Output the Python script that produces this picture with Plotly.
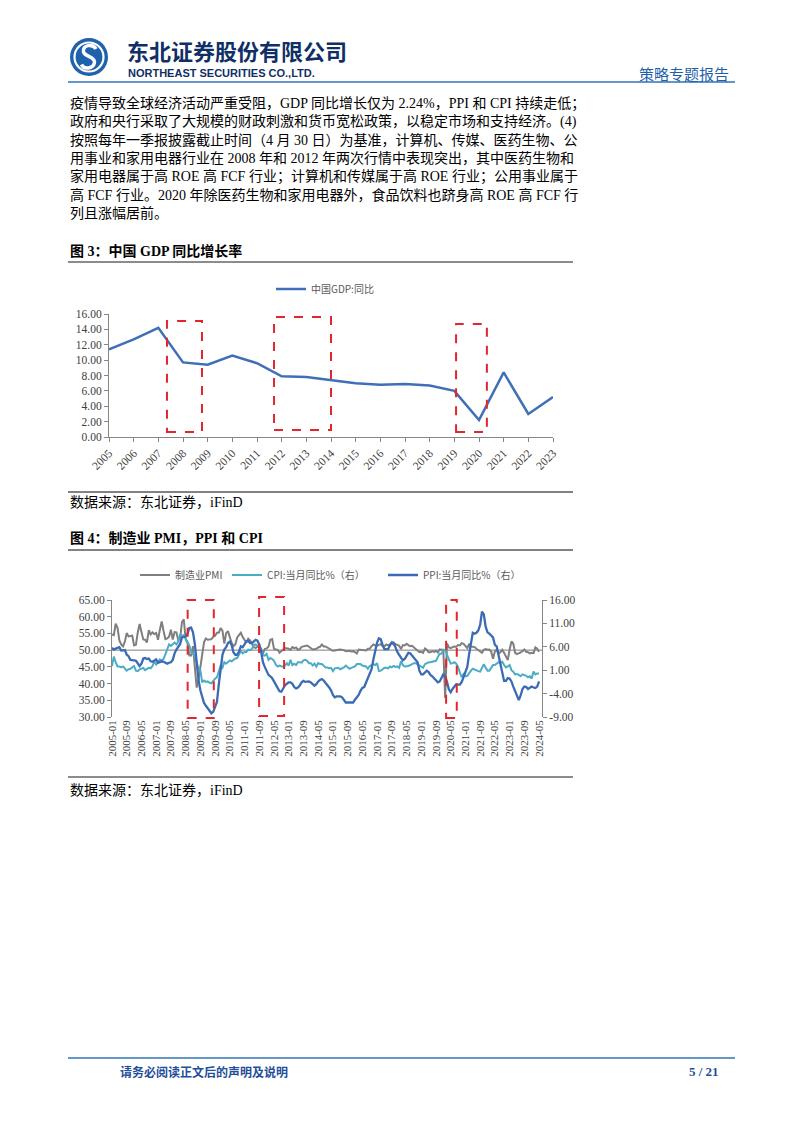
import plotly.graph_objects as go
import pandas as pd

W, H = 802, 1133


def px(x):
    return x / W


def py(y):
    return 1 - y / H


SERIF = "Liberation Serif, Noto Sans CJK SC, serif"
SANS_CJK = "Noto Sans CJK SC, sans-serif"
TICK_COLOR = "#404040"
AXIS_COLOR = "#868686"

# ---------------- Figure 3 data: China GDP yoy ----------------
gdp_years = ["2005", "2006", "2007", "2008", "2009", "2010", "2011", "2012", "2013",
             "2014", "2015", "2016", "2017", "2018", "2019", "2020", "2021", "2022", "2023"]
gdp_yoy = [11.4, 12.7, 14.2, 9.7, 9.4, 10.6, 9.6, 7.9, 7.8,
           7.4, 7.0, 6.8, 6.9, 6.7, 6.0, 2.2, 8.4, 3.0, 5.2]
gdp_yticks = [0, 2, 4, 6, 8, 10, 12, 14, 16]

# ---------------- Figure 4 data: PMI, CPI, PPI (monthly 2005-01 .. 2024-05) ----------------
months = [p.strftime("%Y-%m") for p in pd.period_range("2005-01", "2024-05", freq="M")]
month_ticks = months[::8]

pmi = [
    54.7, 54.5, 57.9, 56.7, 52.9, 51.7, 51.1, 52.6, 55.1, 54.1, 54.2, 54.3,   # 2005
    51.4, 51.6, 55.3, 57.8, 55.4, 53.2, 53.1, 52.3, 56.0, 54.7, 55.3, 54.8,   # 2006
    55.1, 53.1, 56.1, 58.6, 55.8, 53.3, 53.5, 54.0, 56.1, 53.2, 55.4, 55.3,   # 2007
    53.0, 53.4, 58.4, 59.2, 53.3, 52.0, 48.4, 48.4, 51.2, 44.6, 38.8, 41.2,   # 2008
    45.3, 49.0, 52.4, 53.5, 53.1, 53.2, 53.3, 54.0, 54.3, 55.2, 55.2, 56.6,   # 2009
    55.8, 52.0, 55.1, 55.7, 53.9, 52.1, 51.2, 51.7, 53.8, 54.7, 55.2, 53.9,   # 2010
    52.9, 52.2, 53.4, 52.9, 52.0, 50.9, 50.7, 50.9, 51.2, 50.4, 49.0, 50.3,   # 2011
    50.5, 51.0, 53.1, 53.3, 50.4, 50.2, 50.1, 49.2, 49.8, 50.2, 50.6, 50.6,   # 2012
    50.4, 50.1, 50.9, 50.6, 50.8, 50.1, 50.3, 51.0, 51.1, 51.4, 51.4, 51.0,   # 2013
    50.5, 50.2, 50.3, 50.4, 50.8, 51.0, 51.7, 51.1, 51.1, 50.8, 50.3, 50.1,   # 2014
    49.8, 49.9, 50.1, 50.1, 50.2, 50.2, 50.0, 49.7, 49.8, 49.8, 49.6, 49.7,   # 2015
    49.4, 49.0, 50.2, 50.1, 50.1, 50.0, 49.9, 50.4, 50.4, 51.2, 51.7, 51.4,   # 2016
    51.3, 51.6, 51.8, 51.2, 51.2, 51.7, 51.4, 51.7, 52.4, 51.6, 51.8, 51.6,   # 2017
    51.3, 50.3, 51.5, 51.4, 51.9, 51.5, 51.2, 51.3, 50.8, 50.2, 50.0, 49.4,   # 2018
    49.5, 49.2, 50.5, 50.1, 49.4, 49.4, 49.7, 49.5, 49.8, 49.3, 50.2, 50.2,   # 2019
    50.0, 35.7, 52.0, 50.8, 50.6, 50.9, 51.1, 51.0, 51.5, 51.4, 52.1, 51.9,   # 2020
    51.3, 50.6, 51.9, 51.1, 51.0, 50.9, 50.4, 50.1, 49.6, 49.2, 50.1, 50.3,   # 2021
    50.1, 50.2, 49.5, 47.4, 49.6, 50.2, 49.0, 49.4, 50.1, 49.2, 48.0, 47.0,   # 2022
    50.1, 52.6, 51.9, 49.2, 48.8, 49.0, 49.3, 49.7, 50.2, 49.5, 49.4, 49.0,   # 2023
    49.2, 49.1, 50.8, 50.4, 49.5,                                             # 2024
]

cpi = [
    1.9, 3.9, 2.7, 1.8, 1.8, 1.6, 1.8, 1.3, 0.9, 1.2, 1.3, 1.6,
    1.9, 0.9, 0.8, 1.2, 1.4, 1.5, 1.0, 1.3, 1.5, 1.4, 1.9, 2.8,
    2.2, 2.7, 3.3, 3.0, 3.4, 4.4, 5.6, 6.5, 6.2, 6.5, 6.9, 6.5,
    7.1, 8.7, 8.3, 8.5, 7.7, 7.1, 6.3, 4.9, 4.6, 4.0, 2.4, 1.2,
    1.0, -1.6, -1.2, -1.5, -1.4, -1.7, -1.8, -1.2, -0.8, -0.5, 0.6, 1.9,
    1.5, 2.7, 2.4, 2.8, 3.1, 2.9, 3.3, 3.5, 3.6, 4.4, 5.1, 4.6,
    4.9, 4.9, 5.4, 5.3, 5.5, 6.4, 6.5, 6.2, 6.1, 5.5, 4.2, 4.1,
    4.5, 3.2, 3.6, 3.4, 3.0, 2.2, 1.8, 2.0, 1.9, 1.7, 2.0, 2.5,
    2.0, 3.2, 2.1, 2.4, 2.1, 2.7, 2.7, 2.6, 3.1, 3.2, 3.0, 2.5,
    2.5, 2.0, 2.4, 1.8, 2.5, 2.3, 2.3, 2.0, 1.6, 1.6, 1.4, 1.5,
    0.8, 1.4, 1.4, 1.5, 1.2, 1.4, 1.6, 2.0, 1.6, 1.3, 1.5, 1.6,
    1.8, 2.3, 2.3, 2.3, 2.0, 1.9, 1.8, 1.3, 1.9, 2.1, 2.3, 2.1,
    2.5, 0.8, 0.9, 1.2, 1.5, 1.5, 1.4, 1.8, 1.6, 1.9, 1.7, 1.8,
    1.5, 2.9, 2.1, 1.8, 1.8, 1.9, 2.1, 2.3, 2.5, 2.5, 2.2, 1.9,
    1.7, 1.5, 2.3, 2.5, 2.7, 2.7, 2.8, 2.8, 3.0, 3.8, 4.5, 4.5,
    5.4, 5.2, 4.3, 3.3, 2.4, 2.5, 2.7, 2.4, 1.7, 0.5, -0.5, 0.2,
    -0.3, -0.2, 0.4, 0.9, 1.3, 1.1, 1.0, 0.8, 0.7, 1.5, 2.3, 1.5,
    0.9, 0.9, 1.5, 2.1, 2.1, 2.5, 2.7, 2.5, 2.8, 2.1, 1.6, 1.8,
    2.1, 1.0, 0.7, 0.1, 0.2, 0.0, -0.3, 0.1, 0.0, -0.2, -0.5, -0.3,
    -0.8, 0.7, 0.1, 0.3, 0.3,
]

ppi = [
    5.8, 5.4, 5.6, 5.8, 5.9, 5.2, 5.2, 5.3, 4.3, 4.0, 3.2, 3.2,
    3.1, 3.0, 2.5, 1.9, 2.4, 3.5, 3.6, 3.4, 3.5, 2.9, 2.8, 3.1,
    3.3, 2.6, 2.7, 2.9, 2.8, 2.5, 2.4, 2.6, 2.7, 3.2, 4.6, 5.4,
    6.1, 6.6, 8.0, 8.1, 8.2, 8.8, 10.0, 10.1, 9.1, 6.6, 2.0, -1.1,
    -3.3, -4.5, -6.0, -6.6, -7.2, -7.8, -8.2, -7.9, -7.0, -5.8, -2.1, 1.7,
    4.3, 5.4, 5.9, 6.8, 7.1, 6.4, 4.8, 4.3, 4.3, 5.0, 6.1, 5.9,
    6.6, 7.2, 7.3, 6.8, 6.8, 7.1, 7.5, 7.3, 6.5, 5.0, 2.7, 1.7,
    0.7, 0.0, -0.3, -0.7, -1.4, -2.1, -2.9, -3.5, -3.6, -2.8, -2.2, -1.9,
    -1.6, -1.6, -1.9, -2.6, -2.9, -2.7, -2.3, -1.6, -1.3, -1.5, -1.4, -1.4,
    -1.6, -2.0, -2.3, -2.0, -1.4, -1.1, -0.9, -1.2, -1.8, -2.2, -2.7, -3.3,
    -4.3, -4.8, -4.6, -4.6, -4.6, -4.8, -5.4, -5.9, -5.9, -5.9, -5.9, -5.9,
    -5.3, -4.9, -4.3, -3.4, -2.8, -2.6, -1.7, -0.8, 0.1, 1.2, 3.3, 5.5,
    6.9, 7.8, 7.6, 6.4, 5.5, 5.5, 5.5, 6.3, 6.9, 6.9, 5.8, 4.9,
    4.3, 3.7, 3.1, 3.4, 4.1, 4.7, 4.6, 4.1, 3.6, 3.3, 2.7, 0.9,
    0.1, 0.1, 0.4, 0.9, 0.6, 0.0, -0.3, -0.8, -1.2, -1.6, -1.4, -0.5,
    0.1, -0.4, -1.5, -3.1, -3.7, -3.0, -2.4, -2.0, -2.1, -2.1, -1.5, -0.4,
    0.3, 1.7, 4.4, 6.8, 9.0, 8.8, 9.0, 9.5, 10.7, 13.5, 12.9, 10.3,
    9.1, 8.8, 8.3, 8.0, 6.4, 6.1, 4.2, 2.3, 0.9, -1.3, -1.3, -0.7,
    -0.8, -1.4, -2.5, -3.6, -4.6, -5.4, -4.4, -3.0, -2.5, -2.6, -3.0, -2.7,
    -2.5, -2.7, -2.8, -2.5, -1.4,
]

pmi_ticks = [30, 35, 40, 45, 50, 55, 60, 65]
price_ticks = [-9, -4, 1, 6, 11, 16]

body_lines = [
    "疫情导致全球经济活动严重受阻，GDP 同比增长仅为 2.24%，PPI 和 CPI 持续走低；",
    "政府和央行采取了大规模的财政刺激和货币宽松政策，以稳定市场和支持经济。(4)",
    "按照每年一季报披露截止时间（4 月 30 日）为基准，计算机、传媒、医药生物、公",
    "用事业和家用电器行业在 2008 年和 2012 年两次行情中表现突出，其中医药生物和",
    "家用电器属于高 ROE 高 FCF 行业；计算机和传媒属于高 ROE 行业；公用事业属于",
    "高 FCF 行业。2020 年除医药生物和家用电器外，食品饮料也跻身高 ROE 高 FCF 行",
    "列且涨幅居前。",
]

# ---------------- Figure ----------------
fig = go.Figure()

fig.add_trace(go.Scatter(
    x=gdp_years, y=gdp_yoy, mode="lines", name="中国GDP:同比",
    line=dict(color="#3F6FB6", width=2.5), xaxis="x", yaxis="y", legend="legend",
))

fig.add_trace(go.Scatter(
    x=months, y=pmi, mode="lines", name="制造业PMI",
    line=dict(color="#7F7F7F", width=2), xaxis="x2", yaxis="y2", legend="legend2",
))
fig.add_trace(go.Scatter(
    x=months, y=cpi, mode="lines", name="CPI:当月同比%（右）",
    line=dict(color="#4BACC6", width=2), xaxis="x2", yaxis="y3", legend="legend3",
))
fig.add_trace(go.Scatter(
    x=months, y=ppi, mode="lines", name="PPI:当月同比%（右）",
    line=dict(color="#3C6BB5", width=2.3), xaxis="x2", yaxis="y3", legend="legend4",
))

tickfont = dict(family=SERIF, size=11.5, color=TICK_COLOR)
legfont = dict(family=SANS_CJK, size=10, color="#595959")


def leg(x, y):
    return dict(x=px(x), y=py(y), xanchor="left", yanchor="middle", orientation="h",
                font=legfont, bgcolor="rgba(0,0,0,0)", borderwidth=0)


fig.update_layout(
    template="none",
    width=W, height=H, autosize=False,
    margin=dict(l=0, r=0, t=0, b=0, pad=0),
    paper_bgcolor="white", plot_bgcolor="rgba(0,0,0,0)",
    showlegend=True,
    xaxis=dict(
        domain=[px(109), px(553)], anchor="y", type="category",
        range=[0, len(gdp_years) - 1], tickmode="array", tickvals=gdp_years,
        tickangle=-45, tickfont=tickfont, showline=True, linecolor=AXIS_COLOR, linewidth=1,
        ticks="outside", ticklen=4, tickcolor=AXIS_COLOR, showgrid=False, zeroline=False,
        automargin=False,
    ),
    yaxis=dict(
        domain=[py(437), py(314)], anchor="x", range=[0, 16],
        tickmode="array", tickvals=gdp_yticks, ticktext=[f"{v:.2f}" for v in gdp_yticks],
        tickfont=tickfont, showline=True, linecolor=AXIS_COLOR, linewidth=1,
        ticks="outside", ticklen=4, tickcolor=AXIS_COLOR, showgrid=False, zeroline=False,
        automargin=False,
    ),
    xaxis2=dict(
        domain=[px(112), px(542)], anchor="y2", type="category",
        range=[0, 233.6], tickmode="array", tickvals=month_ticks,
        tickangle=-90, tickfont=dict(family=SERIF, size=11, color=TICK_COLOR),
        showline=False, ticks="", showgrid=False, zeroline=False, automargin=False,
    ),
    yaxis2=dict(
        domain=[py(717), py(600)], anchor="x2", range=[30, 65],
        tickmode="array", tickvals=pmi_ticks, ticktext=[f"{v:.2f}" for v in pmi_ticks],
        tickfont=tickfont, showline=True, linecolor=AXIS_COLOR, linewidth=1,
        ticks="outside", ticklen=4, tickcolor=AXIS_COLOR, showgrid=False, zeroline=False,
        automargin=False,
    ),
    yaxis3=dict(
        overlaying="y2", side="right", anchor="x2", range=[-9, 16],
        tickmode="array", tickvals=price_ticks, ticktext=[f"{v:.2f}" for v in price_ticks],
        tickfont=tickfont, showline=True, linecolor=AXIS_COLOR, linewidth=1,
        ticks="outside", ticklen=4, tickcolor=AXIS_COLOR, showgrid=False, zeroline=False,
        automargin=False,
    ),
    legend=leg(271, 289),
    legend2=leg(135, 575),
    legend3=leg(227, 575),
    legend4=leg(383, 575),
)

shapes = []
ann = []


def hline(y, x0, x1, color, width):
    shapes.append(dict(type="line", xref="paper", yref="paper", x0=px(x0), x1=px(x1),
                       y0=py(y), y1=py(y), line=dict(color=color, width=width)))


def text(x, y, s, size, color="#000000", family=SERIF, xanchor="left"):
    ann.append(dict(x=px(x), y=py(y), xref="paper", yref="paper", text=s, showarrow=False,
                    xanchor=xanchor, yanchor="middle", align="left",
                    font=dict(family=family, size=size, color=color)))


# header logo
shapes.append(dict(type="circle", xref="paper", yref="paper", x0=px(70), x1=px(108),
                   y0=py(76), y1=py(38), fillcolor="#1E62AE", line=dict(width=0)))
shapes.append(dict(type="circle", xref="paper", yref="paper", x0=px(74.5), x1=px(103.5),
                   y0=py(71.5), y1=py(42.5), line=dict(color="white", width=2.2)))
s_pts = [(96, 49), (93, 43.5), (82, 44.5), (83.5, 52), (85, 57), (94, 56), (94.5, 62), (94, 69),
         (84, 70), (81.5, 64.5)]
path = "M {:.5f},{:.5f} ".format(px(s_pts[0][0]), py(s_pts[0][1]))
for i in range(1, len(s_pts), 3):
    a, b, c = s_pts[i], s_pts[i + 1], s_pts[i + 2]
    path += "C {:.5f},{:.5f} {:.5f},{:.5f} {:.5f},{:.5f} ".format(
        px(a[0]), py(a[1]), px(b[0]), py(b[1]), px(c[0]), py(c[1]))
shapes.append(dict(type="path", xref="paper", yref="paper", path=path,
                   line=dict(color="white", width=3.5)))

text(125, 50, "<b>东北证券股份有限公司</b>", 22, "#0F2F66", SANS_CJK)
text(126, 73, "<b>NORTHEAST SECURITIES CO.,LTD.</b>", 11, "#0F2F66", "Liberation Sans, Arial, sans-serif")
text(731, 73, "策略专题报告", 15, "#1F5FAA", SANS_CJK, xanchor="right")
hline(82, 68, 735, "#2E74B5", 1.5)

# body
for i, line in enumerate(body_lines):
    text(68, 103 + i * 18.3, line, 14)

# figure 3
text(68, 251, "<b>图 3：中国 GDP 同比增长率</b>", 14)
hline(262, 68, 573, "#8C8C8C", 2)
hline(492, 68, 573, "#595959", 1.5)
text(68, 503, "数据来源：东北证券，iFinD", 14)

# figure 4
text(68, 538, "<b>图 4：制造业 PMI，PPI 和 CPI</b>", 14)
hline(550, 68, 573, "#595959", 1.5)
hline(777, 68, 573, "#8C8C8C", 2)
text(68, 790, "数据来源：东北证券，iFinD", 14)

# footer
hline(1058, 68, 735, "#2E74B5", 1.5)
text(118, 1071, "<b>请务必阅读正文后的声明及说明</b>", 12, "#1F4E9A", SANS_CJK)
text(721, 1071, "<b>5 / 21</b>", 13, "#1F4E9A", SERIF, xanchor="right")

# PMI 50 reference line
shapes.append(dict(type="line", xref="x2 domain", yref="y2", x0=0, x1=1, y0=50, y1=50,
                   line=dict(color="#7F7F7F", width=1), layer="below"))

# red dashed highlight boxes
red = dict(color="#E3262E", width=2, dash="dash")
for x0, x1, y0, y1 in [(2.35, 3.77, 0.65, 15.1), (6.69, 9.0, 0.9, 15.6), (14.07, 15.32, 0.65, 14.7)]:
    shapes.append(dict(type="rect", xref="x", yref="y", x0=x0, x1=x1, y0=y0, y1=y1, line=red))
for x0, x1, ytop, ybot in [(41.1, 55.3, 600, 718), (79.9, 93.5, 597, 716), (181.5, 187.3, 600, 718)]:
    shapes.append(dict(type="rect", xref="x2", yref="paper", x0=x0, x1=x1,
                       y0=py(ybot), y1=py(ytop), line=red))

fig.update_layout(shapes=shapes, annotations=ann)

fig.write_html("out.html", config={"displayModeBar": False},
               post_script="document.body.style.margin='0';")
